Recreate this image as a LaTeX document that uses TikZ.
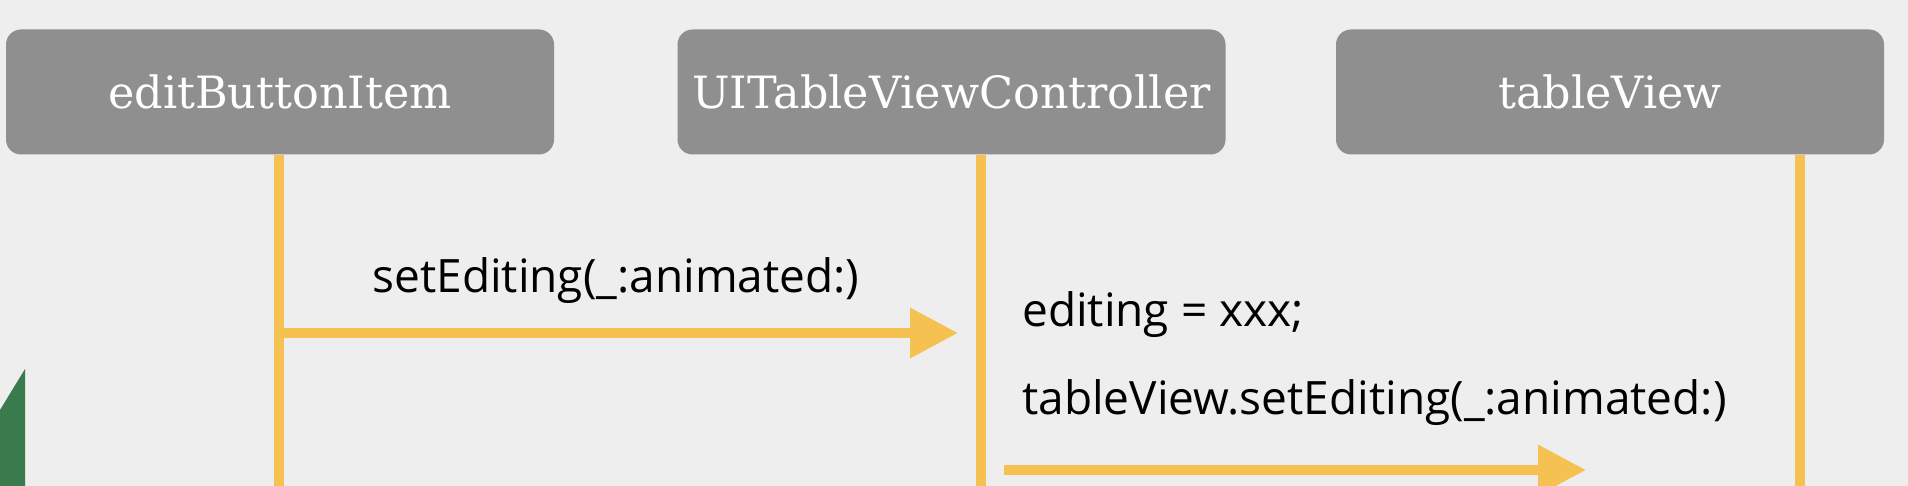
\documentclass[tikz,border=0pt]{standalone}
\usepackage{fontspec}
\setmainfont{Open Sans}
\newfontfamily\boxfont{DejaVu Serif}
\usetikzlibrary{arrows.meta}
\definecolor{bg}{HTML}{EEEEEE}
\definecolor{boxgray}{HTML}{8F8F8F}
\definecolor{life}{HTML}{F5C150}
\definecolor{leaf}{HTML}{3A7B4E}
\begin{document}
\begin{tikzpicture}[x=1pt,y=-1pt,
 actor/.style={fill=boxgray, rounded corners=15pt, minimum width=548pt, minimum height=125pt, text=white, font=\boxfont\fontsize{44.5}{50}\selectfont, inner sep=0pt},
 lifeline/.style={draw=life, line width=10pt},
 msg/.style={draw=life, line width=10pt, -{Triangle[length=48pt,width=48pt]}},
 lbl/.style={font=\fontsize{46}{54}\selectfont, inner sep=0pt, text=black}]
\fill[bg] (0,0) rectangle (1908,486);
\useasboundingbox (0,0) rectangle (1908,486);
\fill[leaf] (0,410) -- (25,369) -- (25,486) -- (0,486) -- cycle;
\node[actor] (ebi) at (280,92) {editButtonItem};
\node[actor] (tvc) at (951.5,92) {UITableViewController};
\node[actor] (tv) at (1610,92) {tableView};
\coordinate (l1t) at (279,155);
\coordinate (l1b) at (279,486);
\coordinate (l2t) at (981,155);
\coordinate (l2b) at (981,486);
\coordinate (l3t) at (1800,155);
\coordinate (l3b) at (1800,486);
\draw[lifeline] (l1t) -- (l1b);
\draw[lifeline] (l2t) -- (l2b);
\draw[lifeline] (l3t) -- (l3b);
\coordinate (a1s) at (284,333);
\coordinate (a1e) at (958,333);
\draw[msg] (a1s) -- (a1e);
\coordinate (a2s) at (1004,470);
\coordinate (a2e) at (1586,470);
\draw[msg] (a2s) -- (a2e);
\node[lbl] (m1) at (616,281) {setEditing(\_:animated:)};
\node[lbl, anchor=west] (s1) at (1022,315) {editing = xxx;};
\node[lbl, anchor=west] (s2) at (1022,403) {tableView.setEditing(\_:animated:)};
\end{tikzpicture}
\end{document}
